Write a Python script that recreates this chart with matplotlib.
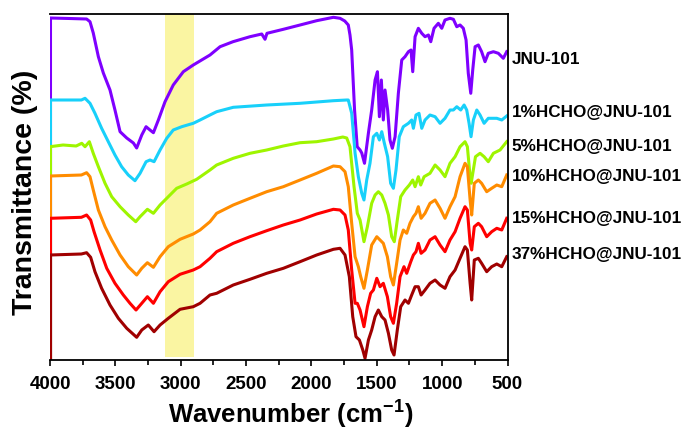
import matplotlib
matplotlib.use("Agg")
import matplotlib.pyplot as plt
from matplotlib.ticker import MultipleLocator

plt.rcParams['font.family'] = ['Liberation Sans', 'DejaVu Sans']
plt.rcParams['font.weight'] = 'bold'
plt.rcParams['mathtext.fontset'] = 'custom'
plt.rcParams['mathtext.rm'] = 'Liberation Sans:bold'
plt.rcParams['mathtext.it'] = 'Liberation Sans:bold'
plt.rcParams['mathtext.bf'] = 'Liberation Sans:bold'

# ---------------- data: stacked FTIR spectra (offset transmittance, a.u.) ----------------
sample_names = ["JNU-101", "1%HCHO@JNU-101", "5%HCHO@JNU-101",
                "10%HCHO@JNU-101", "15%HCHO@JNU-101", "37%HCHO@JNU-101"]

wn_jnu101 = [4000, 3850, 3720, 3694, 3669, 3630, 3592, 3541, 3503, 3464, 3413, 3362, 3337,
             3298, 3265, 3235, 3209, 3171, 3120, 3057, 2980, 2904, 2776, 2699, 2600, 2470,
             2380, 2355, 2340, 2215, 2087, 1960, 1832, 1781, 1745, 1718, 1705, 1692, 1670,
             1650, 1628, 1615, 1594, 1564, 1539, 1513, 1495, 1480, 1465, 1450, 1437, 1417,
             1399, 1381, 1360, 1335, 1309, 1284, 1258, 1238, 1225, 1207, 1182, 1156, 1131,
             1105, 1087, 1062, 1029, 1003, 978, 940, 914, 888, 863, 838, 817, 800, 781, 766,
             748, 723, 698, 672, 647, 608, 570, 532, 506]
t_jnu101 = [342, 341.5, 341, 338.3, 327, 303.3, 287, 270, 250, 228.3, 222, 217, 212,
            225, 233.3, 230, 227.3, 240, 258.3, 275, 288.3, 295, 305, 313.3, 318.3, 323.3,
            326, 320.7, 326.7, 330.7, 335, 339.3, 342.7, 341.7, 339, 335, 325, 310, 250,
            213.3, 210, 207, 196.7, 227, 250, 280, 288.3, 243.3, 280, 240, 270, 250,
            220, 211.7, 223.3, 266.7, 300, 303.3, 308.3, 310, 288.3, 323.3, 331.7, 326.7, 323.3,
            325, 318.3, 331.7, 336.7, 331.7, 340, 341.7, 340.7, 333.3, 335, 331.7, 320, 286.7, 266.7, 290,
            313.3, 315, 308.3, 298.3, 306.7, 308.3, 306.7, 301.7, 308.3]

wn_hcho1 = [4000, 3760, 3732, 3694, 3656, 3605, 3554, 3503, 3452, 3401, 3350, 3311, 3265,
            3235, 3204, 3158, 3107, 3057, 2992, 2904, 2852, 2776, 2725, 2598, 2342, 2087,
            1832, 1730, 1718, 1692, 1666, 1641, 1615, 1598, 1577, 1552, 1526, 1500, 1480,
            1462, 1442, 1417, 1394, 1373, 1353, 1328, 1297, 1258, 1233, 1220, 1200, 1177,
            1156, 1131, 1093, 1054, 1016, 978, 940, 914, 888, 858, 832, 812, 794, 779, 761,
            735, 710, 679, 647, 582, 544, 506]
t_hcho1 = [260, 260, 261.7, 256.7, 246.7, 231.7, 218.3, 205, 193.3, 185, 179.3, 186.7, 198.3,
           200, 198.3, 210, 221.7, 230, 233.3, 236.7, 240, 245, 248.3, 252.7, 255, 256.7,
           259.3, 260, 260, 246.7, 206.7, 183.3, 166.7, 160, 180, 196.7, 223.3, 226.7, 220,
           228.3, 216.7, 203.3, 176.7, 171.7, 190, 223.3, 233.3, 236.7, 240, 231.7, 245, 246.7,
           231.7, 240, 245, 243.3, 236.7, 241.7, 250, 250, 253.3, 250, 255, 250, 236.7, 223.3, 240,
           250, 245, 236.7, 241.7, 241.7, 240, 244]

wn_hcho5 = [4000, 3900, 3800, 3757, 3732, 3699, 3669, 3630, 3579, 3528, 3464, 3401, 3344,
            3311, 3255, 3209, 3158, 3107, 3031, 2954, 2878, 2776, 2725, 2598, 2470, 2342,
            2215, 2087, 1960, 1832, 1760, 1730, 1705, 1674, 1649, 1628, 1598, 1572, 1539,
            1513, 1488, 1462, 1437, 1411, 1386, 1366, 1343, 1317, 1284, 1251, 1225, 1207,
            1182, 1164, 1138, 1093, 1054, 1016, 978, 940, 901, 863, 825, 807, 786, 778, 745,
            710, 679, 647, 608, 557, 506]
t_hcho5 = [213.3, 215, 214, 216.7, 213.3, 218.3, 206.7, 193.3, 176.7, 163.3, 153.3, 145, 138.3,
           143.3, 150.7, 146.7, 155, 161.7, 171.7, 176, 180.7, 190, 195, 201.7, 206.7, 210,
           214, 217.3, 218.3, 221, 223, 222, 213.3, 173.3, 146.7, 140, 118.3, 133.3, 156.7,
           165, 168.3, 165, 156.7, 145, 123.3, 118.3, 140, 163.3, 170, 175, 180, 173.3,
           183.3, 175, 183.3, 186.7, 195, 190, 183.3, 196.7, 203.3, 213.3, 218.3, 213.3, 183.3, 176.7, 203.3,
           206.7, 203.3, 198.3, 206.7, 210, 218.3]

wn_hcho10 = [4000, 3760, 3720, 3694, 3669, 3630, 3579, 3528, 3464, 3401, 3337, 3298, 3255,
             3209, 3158, 3095, 3005, 2904, 2852, 2776, 2725, 2598, 2470, 2342, 2215, 2087,
             1960, 1832, 1781, 1743, 1718, 1692, 1666, 1641, 1623, 1598, 1572, 1539, 1500,
             1475, 1450, 1419, 1394, 1373, 1348, 1322, 1297, 1271, 1246, 1220, 1200, 1182,
             1161, 1131, 1093, 1054, 1016, 978, 940, 901, 863, 825, 807, 786, 774, 754, 723,
             698, 659, 621, 582, 544, 506]
t_hcho10 = [184, 185, 187.3, 183.3, 170, 150, 133.3, 120, 105, 93.3, 85, 91.7, 97.3,
            92.7, 103.3, 113.3, 120.7, 126, 130, 138.3, 146.7, 155, 161.7, 168.3, 173.3, 180,
            186.7, 194, 193.3, 188.3, 173.3, 136.7, 103.3, 93.3, 83.3, 71.7, 90, 115, 123.3,
            120, 116.7, 103.3, 83.3, 75, 96.7, 120, 130, 126.7, 136.7, 143.3, 146.7, 153.3,
            141.7, 146.7, 156.7, 160, 151.7, 141.7, 153.3, 163.3, 183.3, 196.7, 193.3, 160, 145, 176.7, 180,
            176.7, 168.3, 171.7, 175, 173.3, 185]

wn_hcho15 = [4000, 3760, 3720, 3689, 3663, 3617, 3566, 3503, 3439, 3388, 3342, 3298, 3255,
             3209, 3158, 3095, 3005, 2904, 2852, 2776, 2725, 2598, 2470, 2342, 2215, 2087,
             1960, 1832, 1781, 1743, 1718, 1692, 1666, 1649, 1628, 1598, 1572, 1547, 1526,
             1500, 1475, 1450, 1419, 1394, 1373, 1348, 1322, 1292, 1271, 1240, 1220, 1200,
             1182, 1161, 1131, 1093, 1054, 1016, 978, 940, 901, 863, 825, 807, 786, 774, 754,
             723, 698, 659, 621, 582, 544, 506]
t_hcho15 = [141.7, 142.7, 145, 140, 128.3, 110, 91.7, 76.7, 65, 56.7, 50, 56.7, 63.3,
            56.7, 68.3, 78.3, 85.7, 90, 93.3, 101.7, 108.3, 116.7, 123.3, 129.3, 135, 140,
            146, 150.7, 150, 145, 130, 90, 56.7, 56.7, 50, 33.3, 53.3, 66.7, 70,
            81.7, 73.3, 76.7, 63.3, 43.3, 36.7, 56.7, 83.3, 93.3, 86.7, 98.3, 105, 108.3,
            116.7, 106.7, 110, 120, 123.3, 115, 108.3, 120, 128.3, 141.7, 153.3, 150, 116.7, 110, 133.3,
            136.7, 133.3, 123.3, 128.3, 131.7, 130, 141.7]

wn_hcho37 = [4000, 3760, 3720, 3689, 3656, 3605, 3541, 3477, 3413, 3337, 3298, 3248, 3204,
             3158, 3095, 3005, 2904, 2852, 2776, 2725, 2598, 2470, 2342, 2215, 2087, 1960,
             1832, 1781, 1743, 1710, 1684, 1659, 1633, 1607, 1590, 1564, 1539, 1513, 1488,
             1462, 1437, 1411, 1386, 1368, 1343, 1317, 1284, 1258, 1233, 1207, 1182, 1161,
             1131, 1093, 1054, 1016, 978, 940, 901, 863, 825, 807, 786, 774, 754, 723, 698,
             659, 621, 582, 544, 506]
t_hcho37 = [105, 106, 107.3, 102.7, 88.3, 71.7, 55, 41.7, 31.7, 22.7, 30, 35, 28.3,
            35, 41.7, 50.7, 53.3, 56.7, 65, 66.7, 75, 80.7, 86.7, 91.7, 98.3, 105,
            110.7, 111.7, 105, 83.3, 43.3, 23.3, 20, 10, 1.7, 20, 30, 43.3, 50,
            43.3, 40, 26.7, 10, 5, 30, 53.3, 60, 56.7, 65, 73.3, 73.3, 65,
            70, 76.7, 80, 75, 71.7, 83.3, 90, 101.7, 113.3, 110, 76.7, 60, 100, 101.7, 96.7,
            88.3, 93.3, 96, 93.3, 103.3]

spectra = [(wn_jnu101, t_jnu101), (wn_hcho1, t_hcho1), (wn_hcho5, t_hcho5),
           (wn_hcho10, t_hcho10), (wn_hcho15, t_hcho15), (wn_hcho37, t_hcho37)]

# C-H stretching window highlighted on the plot (cm-1)
band_range = (3120, 2895)

# ---------------- styling ----------------
line_colors = ["#7F00FF", "#18D0FA", "#9EF500", "#FF8C00", "#FF0000", "#A00000"]
label_y = [300, 247, 213, 183, 142, 105]

fig = plt.figure(figsize=(6.86, 4.30), dpi=100)
ax = fig.add_axes([50 / 686, 70 / 430, 457.5 / 686, 346 / 430])

ax.axvspan(band_range[0], band_range[1], ymin=0.01, ymax=1, color="#FAF5A2", lw=0, zorder=0)

for (wn, tr), color in zip(spectra, line_colors):
    ax.vlines(wn[0], 0, tr[0], color=color, lw=2.2, zorder=2)
    ax.plot(wn, tr, color=color, lw=2.2, zorder=2, solid_joinstyle="round")

for name, y, color in zip(sample_names, label_y, line_colors):
    ax.annotate(name, xy=(1.0, y), xycoords=("axes fraction", "data"),
                xytext=(3, 0), textcoords="offset points",
                ha="left", va="center", fontsize=12.3, fontweight="bold", color="black",
                annotation_clip=False)

ax.set_xlim(4000, 500)
ax.set_ylim(0, 346)
ax.xaxis.set_major_locator(MultipleLocator(500))
ax.xaxis.set_minor_locator(MultipleLocator(250))
ax.set_yticks([])
ax.tick_params(axis="x", which="both", direction="out", width=1.2, top=False,
               labelsize=13.5, pad=7)
ax.tick_params(axis="x", which="major", length=4.2)
ax.tick_params(axis="x", which="minor", length=3.8)
for lab in ax.get_xticklabels():
    lab.set_fontweight("bold")

for side in ("top", "right", "bottom"):
    ax.spines[side].set_linewidth(1.3)
    ax.spines[side].set_color("black")
ax.spines["left"].set_visible(False)

ax.set_xlabel(r"Wavenumber (cm$^{-1}$)", fontsize=18.5, fontweight="bold")
ax.xaxis.set_label_coords(291 / 686, 31 / 430, transform=fig.transFigure)
ax.xaxis.label.set_va("top")
ax.set_ylabel("Transmittance (%)", fontsize=20.5, fontweight="bold")
ax.yaxis.set_label_coords(25 / 686, 238 / 430, transform=fig.transFigure)
ax.yaxis.label.set_va("center")

fig.savefig("out.png", dpi=100)
